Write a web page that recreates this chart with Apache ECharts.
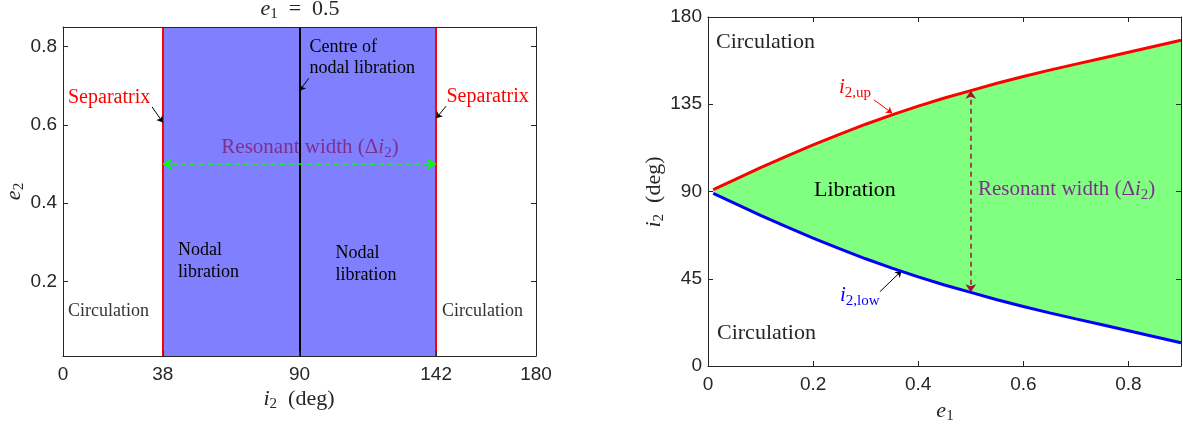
<!DOCTYPE html>
<html><head><meta charset="utf-8">
<script src="https://cdn.jsdelivr.net/npm/echarts@6/dist/echarts.min.js"></script>
<style>html,body{margin:0;padding:0;background:#fff}#c{width:1183px;height:429px}</style>
</head><body><div id="c"></div>
<script>
// ---------- Left panel data ----------
const leftXTicks = [0, 38, 90, 142, 180];
const leftYTicks = [0.2, 0.4, 0.6, 0.8];
const separatrix = [38, 142];
const centre = [90];
const e2Level = 0.5;
const e1Fixed = '0.5';

// ---------- Right panel data ----------
const e1 = [0.01, 0.05, 0.1, 0.15, 0.2, 0.25, 0.3, 0.35, 0.4, 0.45, 0.5, 0.55, 0.6, 0.65, 0.7, 0.75, 0.8, 0.85, 0.9];
const i2Up = [91, 96, 102.3, 108.3, 114, 119.5, 124.7, 129.5, 134, 138.2, 142, 145.8, 149.3, 152.6, 155.7, 158.7, 161.8, 164.9, 168];
const i2Low = [89, 84, 77.7, 71.7, 66, 60.5, 55.3, 50.5, 46, 41.8, 38, 34.2, 30.7, 27.4, 24.3, 21.3, 18.2, 15.1, 12];
const rightXTicks = [0, 0.2, 0.4, 0.6, 0.8];
const rightYTicks = [0, 45, 90, 135, 180];
const e1Marker = 0.5;

const SERIF = 'Liberation Serif';
const SANS = 'Liberation Sans';
const AX = '#262626';
const PURPLE = '#7E2F8E';

function mathRich(size, color) {
  const s = Math.round(size * 0.7);
  return {
    it: {fontFamily: SERIF, fontStyle: 'italic', fontSize: size, fill: color, color: color, verticalAlign: 'top'},
    rm: {fontFamily: SERIF, fontSize: size, fill: color, color: color, verticalAlign: 'top'},
    sub: {fontFamily: SERIF, fontSize: s, fill: color, color: color, verticalAlign: 'top', padding: [Math.round(size * 0.42), 0, 0, 0]}
  };
}
function T(x, y, text, size, color, align, rot) {
  return {
    type: 'text', x: x, y: y, rotation: rot || 0, z: 100, silent: true,
    style: {text: text, fontFamily: SERIF, fontSize: size, fill: color, align: align || 'left', verticalAlign: 'middle', rich: mathRich(size, color)}
  };
}

function frameAxis(grid, pos, min, max, ticks, showTickLabels, type) {
  return {
    gridIndex: grid, type: 'value', min: min, max: max, position: pos, z: 10,
    axisLine: {show: true, onZero: false, lineStyle: {color: AX, width: 1}},
    axisTick: ticks ? {show: true, inside: true, length: 5, customValues: ticks, lineStyle: {color: AX, width: 1}} : {show: false},
    axisLabel: showTickLabels ? {show: true, customValues: ticks, fontFamily: SANS, fontSize: 19, color: AX, margin: type === 'x' ? 9 : 6} : {show: false},
    splitLine: {show: false}
  };
}

const chart = echarts.init(document.getElementById('c'), null, {renderer: 'canvas'});
const idx = e1.indexOf(e1Marker);

const arrowLine = (from, to, color) => [{coord: from, lineStyle: {color: color, width: 1, type: 'solid'}}, {coord: to}];

const option = {
  animation: false,
  grid: [
    {left: 63, top: 27, width: 473, height: 329, show: false},
    {left: 708, top: 17, width: 473, height: 349, show: false}
  ],
  xAxis: [
    frameAxis(0, 'bottom', 0, 180, leftXTicks, true, 'x'),
    frameAxis(0, 'top', 0, 180, null, false, 'x'),
    frameAxis(1, 'bottom', 0, 0.9, rightXTicks, true, 'x'),
    frameAxis(1, 'top', 0, 0.9, rightXTicks, false, 'x')
  ],
  yAxis: [
    frameAxis(0, 'left', 0.01, 0.85, leftYTicks, true, 'y'),
    frameAxis(0, 'right', 0.01, 0.85, leftYTicks, false, 'y'),
    frameAxis(1, 'left', 0, 180, rightYTicks, true, 'y'),
    frameAxis(1, 'right', 0, 180, rightYTicks, false, 'y')
  ],
  series: [
    {
      type: 'line', xAxisIndex: 0, yAxisIndex: 0, data: [[separatrix[0], e2Level]], symbol: 'none',
      lineStyle: {opacity: 0}, silent: true,
      markArea: {silent: true, itemStyle: {color: '#8080FF', opacity: 1}, data: [[{xAxis: separatrix[0]}, {xAxis: separatrix[1]}]]},
      markLine: {
        silent: true, symbol: 'none', label: {show: false},
        data: separatrix.map(v => ({xAxis: v, lineStyle: {color: '#FF0000', width: 2, type: 'solid'}}))
          .concat(centre.map(v => ({xAxis: v, lineStyle: {color: '#000000', width: 2, type: 'solid'}})))
      }
    },
    {
      type: 'line', xAxisIndex: 0, yAxisIndex: 0, data: [[separatrix[0], e2Level]], symbol: 'none',
      lineStyle: {opacity: 0}, silent: true,
      markLine: {
        silent: true, symbol: ['arrow', 'arrow'], symbolSize: 9, label: {show: false},
        lineStyle: {color: '#00FF00', width: 1.5, type: [5, 4]},
        data: [[{coord: [separatrix[0], e2Level]}, {coord: [separatrix[1], e2Level]}]]
      }
    },
    {
      type: 'line', xAxisIndex: 0, yAxisIndex: 0, data: [[separatrix[0], e2Level]], symbol: 'none',
      lineStyle: {opacity: 0}, silent: true,
      markLine: {
        silent: true, symbol: ['none', 'arrow'], symbolSize: 6, label: {show: false},
        data: [
          arrowLine([33.9, 0.646], [separatrix[0], 0.606], '#000'),
          arrowLine([145.8, 0.648], [separatrix[1], 0.617], '#000'),
          arrowLine([93.5, 0.719], [centre[0], 0.687], '#000')
        ]
      }
    },
    {
      type: 'custom', xAxisIndex: 2, yAxisIndex: 2, silent: true, z: 1,
      data: e1.map((x, i) => [x, i2Low[i], i2Up[i]]),
      encode: {x: 0, y: [1, 2]},
      renderItem: function (params, api) {
        if (params.dataIndexInside !== 0) return null;
        const pts = [];
        for (let i = 0; i < e1.length; i++) pts.push(api.coord([e1[i], i2Up[i]]));
        for (let i = e1.length - 1; i >= 0; i--) pts.push(api.coord([e1[i], i2Low[i]]));
        return {type: 'polygon', shape: {points: pts}, style: {fill: '#80FF80', stroke: null}};
      }
    },
    {
      name: 'i2up', type: 'line', xAxisIndex: 2, yAxisIndex: 2, symbol: 'none', silent: true, z: 5,
      data: e1.map((x, i) => [x, i2Up[i]]), lineStyle: {color: '#FF0000', width: 3},
      markLine: {
        silent: true, symbol: ['arrow', 'arrow'], symbolSize: 8, label: {show: false},
        lineStyle: {color: '#A2142F', width: 1.5, type: [5, 4]},
        data: [[{coord: [e1Marker, i2Up[idx]]}, {coord: [e1Marker, i2Low[idx]]}]]
      }
    },
    {
      name: 'i2low', type: 'line', xAxisIndex: 2, yAxisIndex: 2, symbol: 'none', silent: true, z: 5,
      data: e1.map((x, i) => [x, i2Low[i]]), lineStyle: {color: '#0000FF', width: 3},
      markLine: {
        silent: true, symbol: ['none', 'arrow'], symbolSize: 6, label: {show: false},
        data: [
          arrowLine([0.3156, 137.3], [0.3505, 130.4], '#FF0000'),
          arrowLine([0.327, 38.3], [0.368, 49.0], '#000')
        ]
      }
    }
  ],
  graphic: [
    T(300, 10, '{it|e}{sub|1}{rm|  =  ' + e1Fixed + '}', 22, AX, 'center'),
    T(68, 98, 'Separatrix', 20, '#FF0000'),
    T(446.5, 97, 'Separatrix', 20, '#FF0000'),
    T(309.5, 47.5, 'Centre of', 18, '#000'),
    T(309.5, 68.5, 'nodal libration', 18, '#000'),
    T(310, 149, '{rm|Resonant width (Δ}{it|i}{sub|2}{rm|)}', 21, PURPLE, 'center'),
    T(178, 250, 'Nodal', 18, '#000'),
    T(178, 272.5, 'libration', 18, '#000'),
    T(335.5, 253.3, 'Nodal', 18, '#000'),
    T(335.5, 275.5, 'libration', 18, '#000'),
    T(68, 311.5, 'Circulation', 18, '#333'),
    T(442, 311.5, 'Circulation', 18, '#333'),
    T(299, 400, '{it|i}{sub|2}{rm|  (deg)}', 22, AX, 'center'),
    T(15, 191.5, '{it|e}{sub|2}', 22, AX, 'center', Math.PI / 2),
    T(716, 42.7, 'Circulation', 22, AX),
    T(717, 333.3, 'Circulation', 22, AX),
    T(814, 190, 'Libration', 22, '#000'),
    T(978, 190.7, '{rm|Resonant width (Δ}{it|i}{sub|2}{rm|)}', 21, PURPLE),
    T(839, 89, '{it|i}{sub|2,up}', 21, '#FF0000'),
    T(840, 297, '{it|i}{sub|2,low}', 21, '#0000FF'),
    T(945, 412, '{it|e}{sub|1}', 22, AX, 'center'),
    T(655, 192, '{it|i}{sub|2}{rm|  (deg)}', 22, AX, 'center', Math.PI / 2)
  ]
};
chart.setOption(option);
</script>
</body></html>
